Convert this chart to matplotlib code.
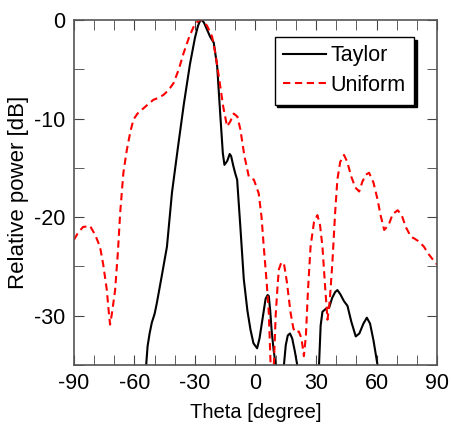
import numpy as np
import matplotlib.pyplot as plt
from matplotlib.ticker import MultipleLocator

plt.rcParams['font.family'] = ['Liberation Sans', 'DejaVu Sans']
plt.rcParams['axes.unicode_minus'] = False

# Taylor pattern, pieces (gaps where it drops below -35 dB)
taylor_theta = [
    [-54.2, -53.5, -52.5, -51.4, -50.0, -48.9, -46.5, -43.9, -41.4, -38.5, -35.5,
     -32.5, -30.0, -28.5, -27.5, -26.5, -25.5, -24.0, -22.5, -20.7, -19.0, -17.4,
     -16.2, -15.4, -14.0, -12.8, -12.1, -11.0, -10.0, -9.1, -7.5, -5.8, -4.0, -2.5,
     -1.0, 0.8, 2.0, 3.5, 5.0, 6.0, 6.6, 7.3, 8.0, 9.0, 10.0],
    [14.1, 15.0, 16.0, 17.1, 18.2, 19.5, 20.7],
    [31.5, 32.3, 33.2, 34.3, 35.5, 36.5, 38.0, 39.5, 40.6, 42.0, 43.8, 45.6, 47.5,
     49.7, 51.5, 53.5, 55.2, 56.8, 58.5, 60.5],
]
taylor_db = [
    [-35.0, -33.1, -31.8, -30.7, -29.8, -28.7, -26.0, -23.0, -17.5, -13.0, -8.5,
     -4.5, -1.8, -0.6, -0.1, 0.0, -0.3, -1.0, -1.7, -2.3, -4.7, -9.8,
     -13.5, -14.7, -14.3, -13.6, -13.8, -14.8, -15.6, -16.2, -21.0, -26.3, -29.5, -31.4,
     -32.8, -33.3, -32.3, -30.3, -28.3, -27.9, -28.0, -29.5, -31.5, -33.5, -35.0],
    [-35.0, -33.0, -32.0, -31.8, -32.3, -33.6, -35.0],
    [-35.0, -31.0, -29.6, -29.4, -29.2, -29.2, -28.2, -27.6, -27.4, -27.8, -28.5, -29.0, -30.6,
     -32.1, -31.8, -30.8, -30.2, -30.8, -32.5, -35.0],
]

# Uniform pattern, pieces
uniform_theta = [
    [-90.0, -88.0, -85.5, -82.0, -79.5, -77.1, -75.5, -73.7, -72.8, -72.1, -71.2,
     -69.6, -68.2, -67.1, -65.5, -63.8, -62.0, -60.5, -58.5, -56.3, -53.5, -50.6,
     -48.0, -45.6, -43.0, -40.6, -38.0, -35.7, -33.0, -30.7, -28.5, -26.5, -24.0,
     -21.5, -19.8, -18.2, -16.0, -14.1, -12.5, -10.8, -9.0, -7.5, -5.5, -3.3, -2.0,
     -0.8, 1.6, 3.0, 4.1, 5.5, 6.6, 7.5],
    [9.1, 10.0, 11.0, 11.6, 12.8, 14.1, 15.5, 17.4, 18.8, 19.9, 21.5, 22.8, 24.0,
     25.0, 26.0, 27.3, 29.0, 30.7, 32.0, 33.2, 34.5, 35.7, 36.8, 38.1, 39.5, 40.6,
     42.0, 43.9, 45.5, 47.5, 49.5, 51.4, 53.0, 54.7, 56.3, 58.5, 60.5, 62.0, 63.8,
     66.0, 68.0, 70.5, 72.5, 74.5, 77.1, 79.0, 81.2, 83.5, 86.0, 88.7, 90.0],
]
uniform_db = [
    [-22.3, -21.6, -21.0, -20.9, -21.8, -23.0, -24.8, -27.4, -29.5, -30.9, -29.8,
     -27.4, -23.5, -19.6, -15.5, -13.2, -11.3, -10.1, -9.5, -9.1, -8.6, -8.1,
     -7.9, -7.6, -7.1, -6.4, -5.0, -3.4, -1.8, -0.7, -0.1, 0.0, -0.6,
     -1.7, -3.5, -5.7, -8.8, -10.8, -10.3, -9.5, -9.8, -11.1, -13.8, -15.9, -16.1,
     -16.2, -17.6, -20.0, -23.0, -26.5, -29.7, -35.0],
    [-35.0, -30.0, -26.8, -25.3, -24.6, -24.7, -26.5, -29.7, -31.3, -31.7, -31.6, -32.3, -34.1,
     -32.0, -27.5, -23.0, -20.5, -19.8, -20.8, -23.0, -27.0, -30.4, -28.5, -24.7, -19.5, -16.2,
     -14.4, -13.7, -14.4, -15.9, -17.0, -17.4, -16.4, -15.7, -15.5, -16.5, -18.2, -19.8, -21.3,
     -20.8, -19.7, -19.3, -19.8, -21.0, -22.0, -22.2, -22.5, -23.0, -23.8, -24.5, -24.8],
]

fig = plt.figure(figsize=(4.51, 4.33), dpi=100)
ax = fig.add_axes([0.164, 0.157, 0.805, 0.797])

for i, (t, d) in enumerate(zip(taylor_theta, taylor_db)):
    ax.plot(t, d, color='black', lw=1.5, label='Taylor' if i == 0 else None)
for i, (t, d) in enumerate(zip(uniform_theta, uniform_db)):
    ax.plot(t, d, color='red', lw=1.5, ls=(0, (3.5, 2.2)), label='Uniform' if i == 0 else None)

ax.set_xlim(-90, 90)
ax.set_ylim(-35, 0)
ax.xaxis.set_major_locator(MultipleLocator(30))
ax.xaxis.set_minor_locator(MultipleLocator(10))
ax.yaxis.set_major_locator(MultipleLocator(10))
ax.yaxis.set_minor_locator(MultipleLocator(5))
ax.tick_params(which='both', direction='in', top=True, right=True, labelsize=15.5, color='#444444')
ax.tick_params(which='major', length=7, pad=6)
ax.tick_params(which='minor', length=7)
for s in ax.spines.values():
    s.set_color('#555555')
    s.set_linewidth(1.2)

ax.set_xlabel('Theta [degree]', fontsize=14.5, labelpad=6)
ax.set_ylabel('Relative power [dB]', fontsize=16, labelpad=4)

leg = ax.legend(loc='upper right', bbox_to_anchor=(0.955, 0.97), fontsize=15.5, frameon=True,
                fancybox=False, shadow={'color': 'black', 'alpha': 1.0}, handlelength=2.0,
                handletextpad=0.2, borderpad=0.4, labelspacing=0.4, borderaxespad=0.3)
leg.get_frame().set_edgecolor('black')
leg.get_frame().set_linewidth(1.0)

fig.savefig('out.png', dpi=100)
